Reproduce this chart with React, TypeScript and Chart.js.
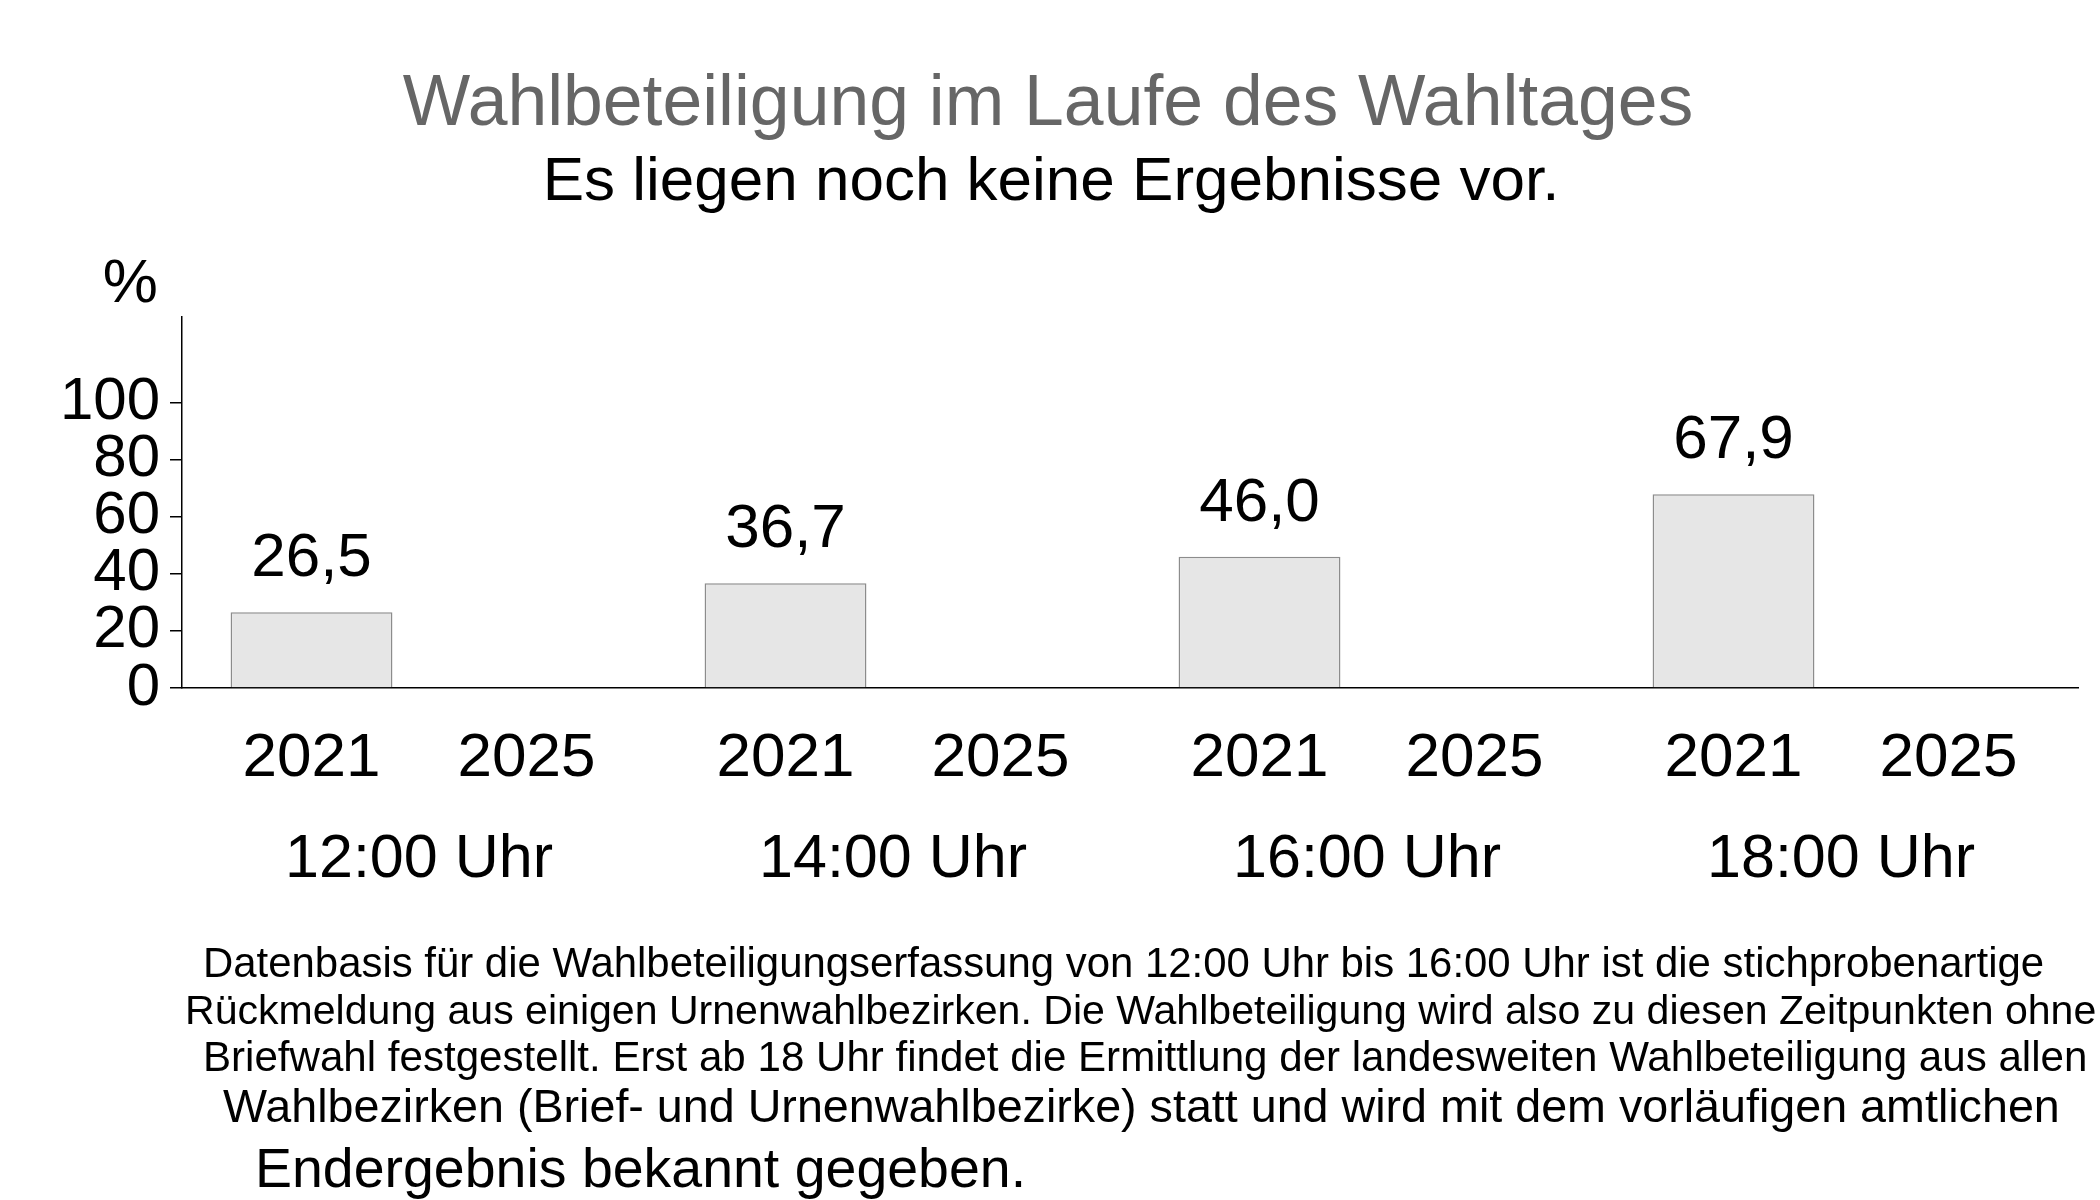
import React, { useEffect, useRef } from 'react';
import { Chart, registerables } from 'chart.js';

Chart.register(...registerables);

const FONT = '"Liberation Sans", Arial, Helvetica, sans-serif';

// ---- data ----
const titleText = 'Wahlbeteiligung im Laufe des Wahltages';
const subtitleText = 'Es liegen noch keine Ergebnisse vor.';
const unitLabel = '%';
const timeLabels = ['12:00 Uhr', '14:00 Uhr', '16:00 Uhr', '18:00 Uhr'];
const yearLabels = ['2021', '2025'];
const turnout2021 = [26.5, 36.7, 46.0, 67.9];
const turnout2025: (number | null)[] = [null, null, null, null];
const yTickValues = [0, 20, 40, 60, 80, 100];
const yAxisMax = 130;
const footnoteLines = [
  'Datenbasis für die Wahlbeteiligungserfassung von 12:00 Uhr bis 16:00 Uhr ist die stichprobenartige',
  'Rückmeldung aus einigen Urnenwahlbezirken. Die Wahlbeteiligung wird also zu diesen Zeitpunkten ohne',
  'Briefwahl festgestellt. Erst ab 18 Uhr findet die Ermittlung der landesweiten Wahlbeteiligung aus allen',
  'Wahlbezirken (Brief- und Urnenwahlbezirke) statt und wird mit dem vorläufigen amtlichen',
  'Endergebnis bekannt gegeben.',
];

// ---- layout (positions only) ----
const footnoteBoxes = [
  { left: 206, right: 2043, baseline: 977 },
  { left: 188, right: 2095, baseline: 1024 },
  { left: 206, right: 2085, baseline: 1071 },
  { left: 223, right: 2058, baseline: 1122 },
  { left: 259, right: 1021, baseline: 1187 },
];

const fmt = (v: number) => v.toFixed(1).replace('.', ',');

function drawFitted(ctx: CanvasRenderingContext2D, text: string, left: number, right: number, baseline: number) {
  ctx.textAlign = 'left';
  ctx.font = `100px ${FONT}`;
  const m0 = ctx.measureText(text);
  const ink0 = m0.actualBoundingBoxLeft + m0.actualBoundingBoxRight;
  const size = (100 * (right - left)) / ink0;
  ctx.font = `${size}px ${FONT}`;
  const m = ctx.measureText(text);
  ctx.fillText(text, left + m.actualBoundingBoxLeft, baseline);
}

const overlay = {
  id: 'overlay',
  afterDraw(chart: any) {
    const ctx: CanvasRenderingContext2D = chart.ctx;
    const area = chart.chartArea;
    const xScale = chart.scales.x;
    ctx.save();
    ctx.textBaseline = 'alphabetic';

    // title + subtitle
    ctx.textAlign = 'center';
    ctx.fillStyle = '#666666';
    ctx.font = `71.5px ${FONT}`;
    ctx.fillText(titleText, 1048, 125);
    ctx.fillStyle = '#000000';
    ctx.font = `62px ${FONT}`;
    ctx.fillText(subtitleText, 1051, 200);

    // unit label
    ctx.textAlign = 'right';
    ctx.font = `62px ${FONT}`;
    ctx.fillText(unitLabel, 158, 302);

    // value labels above bars
    ctx.textAlign = 'center';
    ctx.font = `62px ${FONT}`;
    chart.data.datasets.forEach((ds: any, di: number) => {
      const meta = chart.getDatasetMeta(di);
      meta.data.forEach((el: any, i: number) => {
        const v = ds.data[i];
        if (v == null) return;
        ctx.fillText(fmt(v), el.x, el.y - 36);
      });
    });

    // year labels under each bar slot
    ctx.font = `62px ${FONT}`;
    chart.data.datasets.forEach((ds: any, di: number) => {
      const meta = chart.getDatasetMeta(di);
      meta.data.forEach((el: any) => {
        ctx.fillText(ds.label, el.x, area.bottom + 88);
      });
    });

    // group (time) labels, centred on the category ticks
    ctx.font = `61px ${FONT}`;
    chart.data.labels.forEach((lab: string, i: number) => {
      ctx.fillText(lab, xScale.getPixelForTick(i), area.bottom + 189);
    });

    // footnote
    ctx.fillStyle = '#000000';
    footnoteLines.forEach((line, i) => {
      const b = footnoteBoxes[i];
      drawFitted(ctx, line, b.left, b.right, b.baseline);
    });
    ctx.restore();
  },
};

export default function App() {
  const ref = useRef<HTMLCanvasElement>(null);
  useEffect(() => {
    document.body.style.margin = '0';
    document.body.style.overflow = 'hidden';
    const barStyle = {
      backgroundColor: '#e6e6e6',
      borderColor: '#8c8c8c',
      borderWidth: 1.5,
      categoryPercentage: 0.907,
      barPercentage: 0.753,
    };
    const chart = new Chart(ref.current as HTMLCanvasElement, {
      type: 'bar',
      data: {
        labels: timeLabels,
        datasets: [
          { label: yearLabels[0], data: turnout2021, ...barStyle },
          { label: yearLabels[1], data: turnout2025, ...barStyle },
        ],
      },
      options: {
        responsive: false,
        animation: false,
        devicePixelRatio: 1,
        layout: { padding: { top: 317, right: 22, left: 0, bottom: 0 } },
        plugins: {
          legend: { display: false },
          tooltip: { enabled: false },
          title: { display: false },
        },
        scales: {
          x: {
            grid: { display: false, drawTicks: false },
            border: { display: true, color: '#000000', width: 1.5 },
            ticks: { display: false },
            afterFit: (s: any) => {
              s.height = 512;
            },
          },
          y: {
            min: 0,
            max: yAxisMax,
            afterBuildTicks: (s: any) => {
              s.ticks = yTickValues.map((v) => ({ value: v }));
            },
            grid: {
              drawOnChartArea: false,
              drawTicks: true,
              tickLength: 12,
              color: '#000000',
              lineWidth: 1.5,
            },
            border: { color: '#000000', width: 1.5 },
            ticks: {
              color: '#000000',
              font: { family: FONT, size: 60 },
              padding: 10,
              autoSkip: false,
            },
            afterFit: (s: any) => {
              s.width = 182;
            },
          },
        },
      } as any,
      plugins: [overlay],
    });
    return () => chart.destroy();
  }, []);
  return <canvas ref={ref} width={2100} height={1200} style={{ display: 'block' }} />;
}
